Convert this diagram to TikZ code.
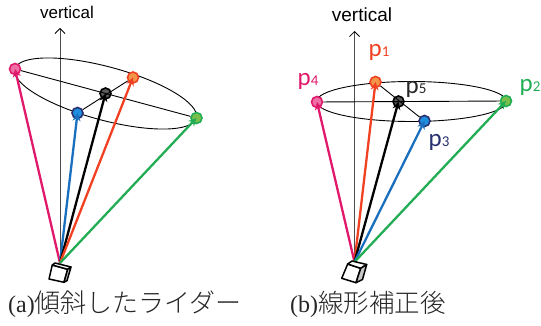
\documentclass[tikz,border=0pt]{standalone}
\usepackage{fontspec}
\usetikzlibrary{arrows.meta}
\setmainfont{Liberation Serif}
\setsansfont{Liberation Sans}
\newfontfamily\cjk{Noto Sans CJK JP Light}
\newfontfamily\calib{Carlito}
\definecolor{cpink}{HTML}{E0196B}
\definecolor{cred}{HTML}{F24022}
\definecolor{cblue}{HTML}{1A6FBE}
\definecolor{cgreen}{HTML}{22AD55}
\definecolor{fpink}{HTML}{EE6FA5}
\definecolor{forange}{HTML}{F0954A}
\definecolor{fblue}{HTML}{1E8FE0}
\definecolor{fgreen}{HTML}{7ABF4A}
\definecolor{dnavy}{HTML}{283070}
\tikzset{
 x=1pt,y=-1pt,
 dotnode/.style={circle,inner sep=0pt,minimum size=11pt,line width=1.6pt,draw=#1},
 ray/.style={line width=2.3pt,-{Stealth[length=8pt,width=8pt]},shorten >=0pt},
 axisline/.style={line width=.8pt,draw=black!70,-{Straight Barb[length=5pt,width=10pt,black]}},
 thin line/.style={line width=.9pt},
 cubeline/.style={line width=1.5pt,line join=round},
 vtext/.style={font=\sffamily\fontsize{#1}{18}\selectfont,inner sep=0pt},
 plabel/.style={font=\calib\fontsize{25}{27}\selectfont,inner sep=0pt},
 captext/.style={font=\fontsize{24}{26}\selectfont,inner sep=0pt,anchor=base west,text=black!85},
}
\newcommand{\sub}[1]{{\fontsize{15}{15}\selectfont #1}}
\begin{document}
\begin{tikzpicture}
\useasboundingbox (0,0) rectangle (541,326);
% ---- (a)
\coordinate (aA) at (60,263);
\coordinate (aV) at (60,28);
\node[vtext=17] (aVt) at (67,12.5) {vertical};
\draw[axisline] (aA) -- (aV);
\draw[thin line] (105.5,93.5) ellipse[x radius=94,y radius=26.7,rotate=-15.1];
\node[dotnode=cpink,fill=fpink] (a4) at (15,69) {};
\node[dotnode=cred,fill=forange] (a1) at (133,77.5) {};
\node[dotnode=dnavy,fill=fblue] (a3) at (77.5,113) {};
\node[dotnode=black,fill=black!65] (a5) at (105.5,93.5) {};
\node[dotnode=cgreen,fill=fgreen] (a2) at (196.5,118) {};
\draw[thin line] (a4) -- (a2);
\draw[thin line] (a3) -- (a1);
\draw[ray,cpink] (aA) -- (a4.center);
\draw[ray,cblue] (aA) -- (a3.center);
\draw[ray,black] (aA) -- (a5.center);
\draw[ray,cred] (aA) -- (a1.center);
\draw[ray,cgreen] (aA) -- (a2.center);
\draw[cubeline,fill=white] (52.3,265) -- (49,279) -- (64,282.3) -- (67.7,269.3) -- cycle;
\draw[cubeline,fill=white] (52.3,265) -- (55,263) -- (71,267) -- (67.7,269.3) -- cycle;
\draw[cubeline,fill=black!22] (67.7,269.3) -- (71,267) -- (67,280.7) -- (64,282.3) -- cycle;
\node[captext] (acap) at (8,312) {(a)\cjk\fontsize{26}{27}\selectfont 傾斜したライダー};
% ---- (b)
\coordinate (bA) at (354.5,262);
\coordinate (bV) at (354.5,31);
\node[vtext=19] (bVt) at (362,15) {vertical};
\draw[axisline] (bA) -- (bV);
\draw[thin line] (411.5,101.5) ellipse[x radius=95,y radius=20];
\node[dotnode=cpink,fill=fpink] (b4) at (317,102) {};
\node[dotnode=cred,fill=forange] (b1) at (375.5,82) {};
\node[dotnode=dnavy,fill=fblue] (b3) at (424.5,121) {};
\node[dotnode=black,fill=black!65] (b5) at (398.5,101.5) {};
\node[dotnode=cgreen,fill=fgreen] (b2) at (506,101) {};
\draw[thin line] (b4) -- (b2);
\draw[thin line] (b1) -- (b3);
\draw[ray,cpink] (bA) -- (b4.center);
\draw[ray,cred] (bA) -- (b1.center);
\draw[ray,black] (bA) -- (b5.center);
\draw[ray,cblue] (bA) -- (b3.center);
\draw[ray,cgreen] (bA) -- (b2.center);
\draw[cubeline,fill=white] (347.7,264) -- (341.7,278.3) -- (356,282.7) -- (360.7,268.3) -- cycle;
\draw[cubeline,fill=white] (347.7,264) -- (352,261) -- (366.7,264.5) -- (360.7,268.3) -- cycle;
\draw[cubeline,fill=black!22] (360.7,268.3) -- (366.7,264.5) -- (362.5,279.5) -- (356,282.7) -- cycle;
\node[plabel,text=cred] (p1) at (379,52) {p\sub{1}};
\node[plabel,text=cgreen] (p2) at (530,87) {p\sub{2}};
\node[plabel,text=dnavy] (p3) at (439,142) {p\sub{3}};
\node[plabel,text=cpink] (p4) at (308,81) {p\sub{4}};
\node[plabel,text=black!85] (p5) at (416,89) {p\sub{5}};
\node[captext] (bcap) at (290,312) {(b)\cjk\fontsize{25.5}{27}\selectfont 線形補正後};
\end{tikzpicture}
\end{document}
